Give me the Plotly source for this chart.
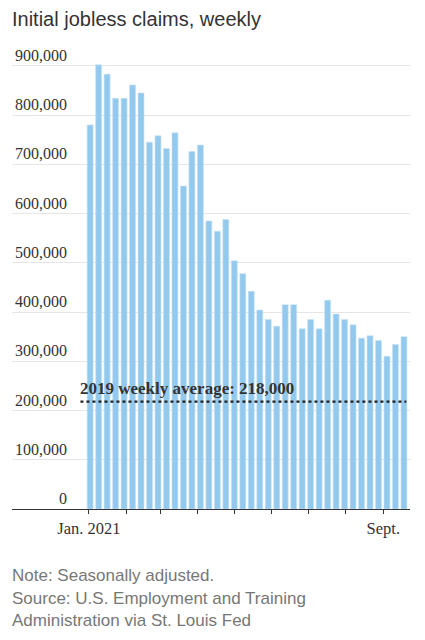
import pandas as pd
import plotly.graph_objects as go

# weekly initial claims, week ending Saturday, Jan 2 - Sept 18 2021
weeks = pd.date_range("2021-01-02", periods=38, freq="7D")
claims = [780000, 902000, 883000, 834000, 834000, 861000, 845000, 745000,
          758000, 732000, 764000, 656000, 726000, 739000, 585000, 564000,
          588000, 504000, 478000, 442000, 404000, 385000, 371000, 415000,
          415000, 366000, 385000, 366000, 424000, 396000, 385000, 374000,
          347000, 352000, 342000, 310000, 334000, 350000]

avg_2019 = 218000
avg_label = "2019 weekly average: 218,000"

y_ticks = [0, 100000, 200000, 300000, 400000, 500000, 600000, 700000, 800000, 900000]
x_ticks = pd.date_range("2021-01-01", "2021-09-01", freq="MS")
x_ticktext = ["Jan. 2021", "", "", "", "", "", "", "", "Sept."]

notes = ["Note: Seasonally adjusted.",
         "Source: U.S. Employment and Training",
         "Administration via St. Louis Fed"]
note_y = [-0.1457, -0.1965, -0.2472]

serif = "Liberation Serif"
sans = "Liberation Sans"

# page body has an 8px margin, so the figure is a bit smaller than the window
W, H = 417, 632

fig = go.Figure()

fig.add_trace(go.Bar(
    x=weeks, y=claims,
    marker=dict(color="#94c9ee", line=dict(color="#c4e1f6", width=0.6)),
    hoverinfo="x+y",
))

line_start = weeks[0] - pd.Timedelta(days=8)

# dotted reference line for the 2019 average
fig.add_trace(go.Scatter(
    x=[line_start, weeks[-1] + pd.Timedelta(days=2)],
    y=[avg_2019, avg_2019],
    mode="lines",
    line=dict(color="#222", width=2.2, dash="dot"),
    hoverinfo="skip",
))

fig.add_annotation(
    x=line_start, y=avg_2019,
    text="<b>" + avg_label + "</b>",
    showarrow=False, xanchor="left", yanchor="bottom", xshift=-2, yshift=2,
    font=dict(family=serif, size=17, color="#333"),
)

# y labels sit above the gridlines, right aligned
for v in y_ticks:
    fig.add_annotation(
        x=0.143, xref="paper", y=v, yref="y",
        text=f"{v:,}", showarrow=False,
        xanchor="right", yanchor="bottom",
        font=dict(family=serif, size=16, color="#333"),
    )

for t, yy in zip(notes, note_y):
    fig.add_annotation(
        x=0, xref="paper", y=yy, yref="paper",
        text=t, showarrow=False, xanchor="left", yanchor="middle", xshift=-2,
        font=dict(family=sans, size=17, color="#777"),
    )

fig.update_layout(
    width=W, height=H,
    margin=dict(l=4, r=15, t=48, b=131),
    paper_bgcolor="white", plot_bgcolor="white",
    showlegend=False,
    bargap=0.3,
    title=dict(text="Initial jobless claims, weekly", x=4 / W, xanchor="left",
               y=1 - 11 / H, yanchor="middle",
               font=dict(family=sans, size=20, color="#333")),
    xaxis=dict(
        type="date",
        range=["2020-10-29 12:00", "2021-09-23"],
        tickvals=x_ticks, ticktext=x_ticktext,
        ticks="outside", ticklen=4, tickcolor="#333",
        showline=True, linecolor="#333", linewidth=1,
        showgrid=False, zeroline=False,
        tickfont=dict(family=serif, size=16.5, color="#333"),
    ),
    yaxis=dict(
        range=[0, 920000],
        tickvals=y_ticks, showticklabels=False,
        showgrid=True, gridcolor="#e6e6e6", gridwidth=1,
        zeroline=False, fixedrange=True,
    ),
)

fig.write_html("out.html")
